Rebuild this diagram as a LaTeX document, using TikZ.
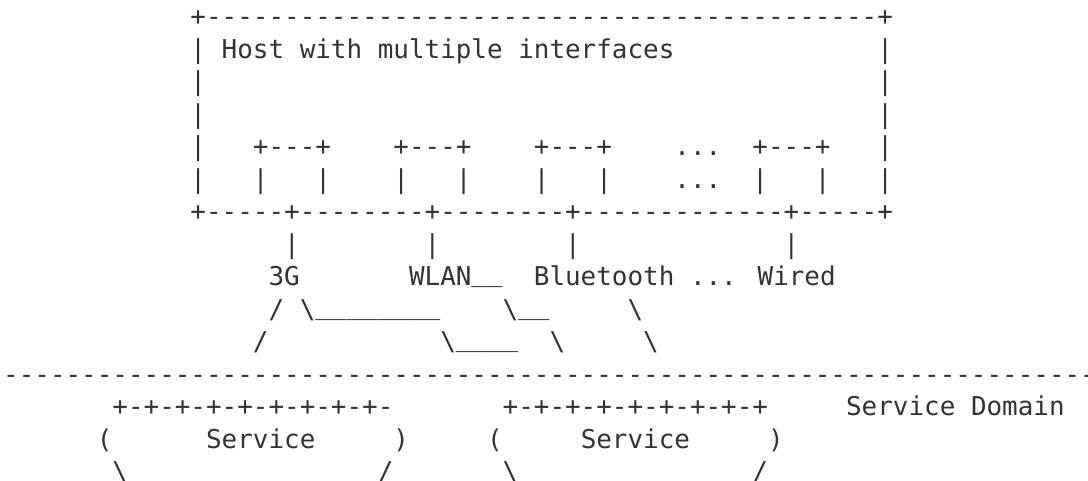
\documentclass[tikz,border=0pt]{standalone}
\usepackage{fontspec}
\newfontfamily\asciifont{DejaVu Sans Mono}
\definecolor{inkc}{HTML}{333333}
\tikzset{asc/.style={anchor=base west, inner sep=0pt, outer sep=0pt, text=inkc,
  font=\asciifont\fontsize{25.93pt}{32.5pt}\selectfont}}
\newcommand\BS{\textbackslash}
\newcommand\US[1]{\raisebox{4pt}{#1}}
\newcommand\ascT[4]{\node[asc] (#1) at ({190.495+15.61*(#2)},{-25.8-32.5*(#3)}) {#4};}
\begin{document}
\begin{tikzpicture}[x=1pt,y=1pt]
\useasboundingbox (0,0) rectangle (1088,-481);
\clip (0,0) rectangle (1088,-481);
% host box
\ascT{top}{0}{0}{+-------------------------------------------+}
\ascT{l1}{0}{1}{|}\ascT{title}{2}{1}{Host with multiple interfaces}\ascT{r1}{44}{1}{|}
\ascT{l2}{0}{2}{|}\ascT{r2}{44}{2}{|}
\ascT{l3}{0}{3}{|}\ascT{r3}{44}{3}{|}
\ascT{l4}{0}{4}{|}
\ascT{ifa}{4}{4}{+---+}\ascT{ifb}{13}{4}{+---+}\ascT{ifc}{22}{4}{+---+}
\ascT{dotsa}{31}{4}{...}\ascT{ifd}{36}{4}{+---+}
\ascT{r4}{44}{4}{|}
\ascT{l5}{0}{5}{|}
\ascT{ifal}{4}{5}{|}\ascT{ifar}{8}{5}{|}
\ascT{ifbl}{13}{5}{|}\ascT{ifbr}{17}{5}{|}
\ascT{ifcl}{22}{5}{|}\ascT{ifcr}{26}{5}{|}
\ascT{dotsb}{31}{5}{...}
\ascT{ifdl}{36}{5}{|}\ascT{ifdr}{40}{5}{|}
\ascT{r5}{44}{5}{|}
\ascT{bottom}{0}{6}{+-----+--------+--------+-------------+-----+}
% links
\ascT{va}{6}{7}{|}\ascT{vb}{15}{7}{|}\ascT{vc}{24}{7}{|}\ascT{vd}{38}{7}{|}
\ascT{tg}{5}{8}{3G}
\ascT{wlan}{14}{8}{WLAN\US{\_\_}}
\ascT{bt}{22}{8}{Bluetooth ... Wired}
\ascT{pa}{5}{9}{/ \BS\US{\_\_\_\_\_\_\_\_}}
\ascT{pb}{20}{9}{\BS\US{\_\_}}
\ascT{pc}{28}{9}{\BS}
\ascT{qa}{4}{10}{/}
\ascT{qb}{16}{10}{\BS\US{\_\_\_\_}}
\ascT{qc}{23}{10}{\BS}
\ascT{qd}{29}{10}{\BS}
% domain separator
\ascT{sep}{-12}{11}{-------------------------------------------------------------------------}
% services
\ascT{sa}{-5}{12}{+-+-+-+-+-+-+-+-+-}
\ascT{sb}{20}{12}{+-+-+-+-+-+-+-+-+}
\ascT{dom}{42}{12}{Service Domain}
\ascT{sal}{-6}{13}{(}\ascT{san}{1}{13}{Service}\ascT{sar}{13}{13}{)}
\ascT{sbl}{19}{13}{(}\ascT{sbn}{25}{13}{Service}\ascT{sbr}{37}{13}{)}
\ascT{tal}{-5}{14}{\BS}\ascT{tar}{12}{14}{/}
\ascT{tbl}{20}{14}{\BS}\ascT{tbr}{36}{14}{/}
\end{tikzpicture}
\end{document}
